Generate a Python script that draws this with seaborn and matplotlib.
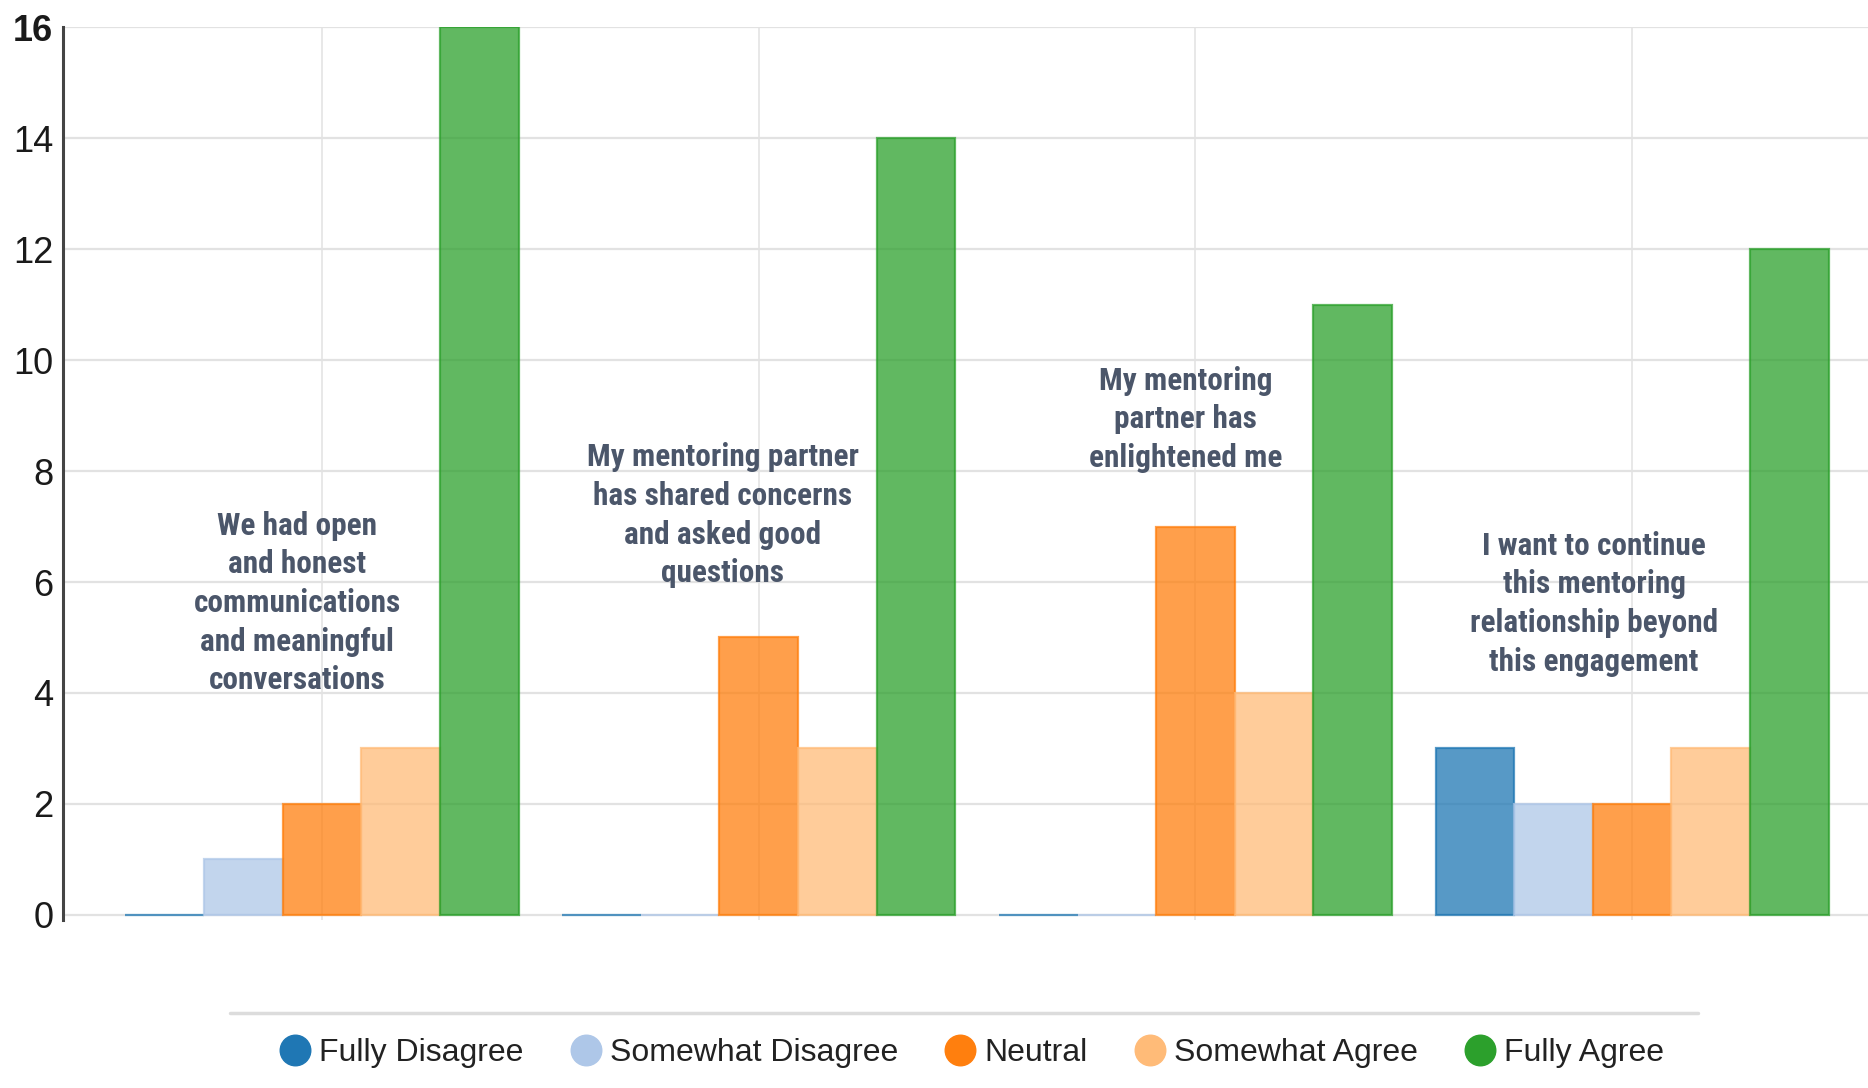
import matplotlib
matplotlib.use("Agg")
import matplotlib.pyplot as plt
from matplotlib.lines import Line2D
import seaborn as sns
import pandas as pd

# ---- data ----
statements = [
    "We had open\nand honest\ncommunications\nand meaningful\nconversations",
    "My mentoring partner\nhas shared concerns\nand asked good\nquestions",
    "My mentoring\npartner has\nenlightened me",
    "I want to continue\nthis mentoring\nrelationship beyond\nthis engagement",
]
responses = ["Fully Disagree", "Somewhat Disagree", "Neutral", "Somewhat Agree", "Fully Agree"]
fully_disagree = [0, 0, 0, 3]
somewhat_disagree = [1, 0, 0, 2]
neutral = [2, 5, 7, 2]
somewhat_agree = [3, 3, 4, 3]
fully_agree = [16, 14, 11, 12]
y_ticks = [0, 2, 4, 6, 8, 10, 12, 14, 16]
colors = ["#1f77b4", "#aec7e8", "#ff7f0e", "#ffbb78", "#2ca02c"]

# annotation placement (data coords)
ann_x = [-0.057, 0.918, 1.977, 2.913]
ann_y = [5.62, 7.2, 8.93, 5.61]

series = [fully_disagree, somewhat_disagree, neutral, somewhat_agree, fully_agree]
rows = []
for r, vals in zip(responses, series):
    for i, v in enumerate(vals):
        rows.append({"statement": f"s{i}", "response": r, "count": v})
df = pd.DataFrame(rows)

sns.set_theme(style="white")
plt.rcParams["font.family"] = ["Liberation Sans", "DejaVu Sans"]

fig = plt.figure(figsize=(18.68, 10.88), dpi=100)
ax = fig.add_axes([63 / 1868, 0.154, 1 - 63 / 1868, 0.821])

sns.barplot(data=df, x="statement", y="count", hue="response",
            hue_order=responses, palette=colors, width=0.9, alpha=0.75,
            saturation=1, order=[f"s{i}" for i in range(4)], legend=False,
            ax=ax, errorbar=None)
for p in ax.patches:
    p.set_edgecolor(p.get_facecolor())
    p.set_linewidth(1.6)

ax.set_xlim(-0.593, 3.54)
ax.set_ylim(-0.1, 16)
ax.set_yticks(y_ticks, labels=[str(t) for t in y_ticks])
ax.set_xticklabels([])
ax.set_xlabel("")
ax.set_ylabel("")
ax.tick_params(axis="y", length=0, pad=7, labelsize=26, labelcolor="#1a1a1a")
ax.tick_params(axis="x", length=0)
ax.get_yticklabels()[-1].set_fontweight("bold")
ax.grid(True, axis="y", color="#e2e2e2", linewidth=1.6)
ax.grid(True, axis="x", color="#e8e8e8", linewidth=1.4)
ax.set_axisbelow(True)
for s in ["top", "right", "bottom"]:
    ax.spines[s].set_visible(False)
ax.spines["left"].set_color("#444444")
ax.spines["left"].set_linewidth(2.2)

for txt, x, y in zip(statements, ann_x, ann_y):
    ax.text(x, y, txt, ha="center", va="center", multialignment="center",
            fontsize=22.5, fontweight="bold", color="#4b566a",
            family=["Roboto Condensed", "Liberation Sans Narrow", "Roboto", "DejaVu Sans"],
            linespacing=1.36)

# separator line above legend
fig.add_artist(Line2D([230 / 1868, 1698 / 1868], [1 - 1013 / 1088] * 2,
                      color="#dcdcdc", linewidth=2.5, transform=fig.transFigure))

handles = [Line2D([], [], marker="o", linestyle="", markersize=22,
                  markerfacecolor=c, markeredgecolor=c) for c in colors]
fig.legend(handles, responses, loc="center", bbox_to_anchor=(0.52, 0.032),
           ncol=5, frameon=False, fontsize=23, handlelength=1.0,
           handletextpad=0.25, columnspacing=1.45, labelcolor="#222222")

fig.savefig("out.png", dpi=100, facecolor="white")
